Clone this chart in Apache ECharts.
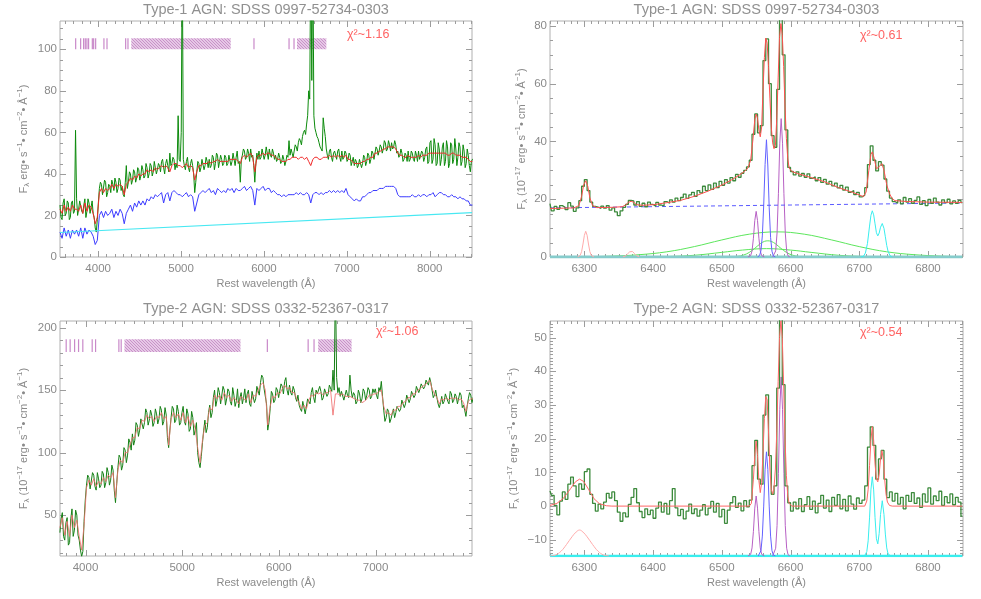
<!DOCTYPE html>
<html><head><meta charset="utf-8">
<script src="https://cdn.jsdelivr.net/npm/echarts@6/dist/echarts.min.js"></script>
<style>html,body{margin:0;padding:0;background:#fff}#c{width:981px;height:599px}</style>
</head><body><div id="c"></div>
<script>
// ---------------- titles / labels ----------------
const titleType1 = 'Type-1 AGN: SDSS 0997-52734-0303';
const titleType2 = 'Type-2 AGN: SDSS 0332-52367-0317';
const chiLabels = ['χ²~1.16', 'χ²~0.61', 'χ²~1.06', 'χ²~0.54'];
const xTitle = 'Rest wavelength (Å)';
const yTitleP1 = 'F{s|λ} erg• s{u|−1}• cm{u|−2}• Å{u|−1})';
const yTitle = 'F{s|λ} (10{u|−17} erg• s{u|−1}• cm{u|−2}• Å{u|−1})';

// ---------------- tick labels ----------------
const p1XTicks = [4000, 5000, 6000, 7000, 8000];
const p1YTicks = [0, 20, 40, 60, 80, 100];
const p2XTicks = [6300, 6400, 6500, 6600, 6700, 6800];
const p2YTicks = [0, 20, 40, 60, 80];
const p3XTicks = [4000, 5000, 6000, 7000];
const p3YTicks = [50, 100, 150, 200];
const p4XTicks = [6300, 6400, 6500, 6600, 6700, 6800];
const p4YTicks = [-10, 0, 10, 20, 30, 40, 50];

// ---------------- panel 1 : type-1 full spectrum ----------------
const p1ObsStart = 3540, p1ObsStep = 12.5;
const p1Observed = [
 25,19,18,26,28,20,21,27,26,18,19,26,27,21,22,61,
 28,20,23,27,27,22,21,25,28,19,22,28,26,21,24,27,
 21,19,14,12,18,26,33,36,35,30,30,37,36,29,31,35,
 34,31,37,35,32,38,36,31,33,38,37,32,34,30,29,36,
 44,33,36,41,40,35,37,42,41,36,38,43,42,37,39,44,
 42,38,39,45,43,38,40,45,44,39,41,46,43,40,42,45,
 44,41,46,47,43,40,45,47,44,41,50,44,45,48,47,42,
 45,43,68,47,46,60,150,47,44,42,46,48,43,41,45,47,
 44,40,31,36,41,46,45,41,43,47,47,42,44,48,46,43,
 47,43,44,49,48,42,45,50,49,43,46,49,47,44,45,49,
 48,44,45,49,49,44,46,50,47,44,48,51,45,46,36,47,
 49,52,51,47,48,52,50,46,52,48,49,44,36,45,50,47,
 51,47,48,52,52,47,49,53,50,47,52,49,48,52,50,47,
 49,46,47,50,48,45,46,49,47,44,46,49,48,56,49,52,
 50,48,51,54,53,51,55,57,56,54,58,60,61,59,64,68,
 80,76,150,85,150,68,62,60,58,57,55,53,52,51,67,62,
 58,52,49,47,51,52,48,46,50,51,49,47,51,52,48,46,
 51,47,48,51,50,46,47,50,49,44,46,48,44,47,46,43,
 44,47,47,43,45,49,48,44,46,50,49,45,47,51,50,47,
 50,53,52,49,51,54,53,50,52,56,55,51,52,56,54,51,
 55,52,53,56,54,50,51,48,49,52,50,46,47,50,49,46,
 51,46,47,51,50,47,46,51,49,46,51,47,47,51,50,46,
 48,52,53,45,46,55,56,45,47,57,54,44,45,55,52,44,
 47,53,55,44,46,56,53,43,45,55,54,45,47,57,52,44,
 48,55,53,44,46,54,51,43,45,52,49,44,41,46,47,47];
const p1Start = 3540, p1Step = 25;
const p1Model = [
 23,21,25,22,24,22,25,23, 23,22,25,21,26,22,25,24, 21,16,19,31,33,31,33,32,
 33,35,33,35,34,35,34,30, 35,36,38,37,39,38,40,39, 40,40,42,41,42,41,43,42,
 43,44,43,44,43,41,44,45, 45,44,44,43,44,45,43,44, 43,37,41,44,44,45,45,45,
 46,45,46,46,47,46,46,46, 46,46,47,47,47,47,46,45, 48,49,48,49,50,48,41,48,
 49,49,50,49,50,50,49,49, 48,47,47,46,46,46,47,47, 48,48,48,47,48,48,47,48,
 46,44,47,48,48,47,47,48, 48,48,49,48,49,48,49,48, 49,48,49,47,47,46,45,45,
 45,45,46,46,47,47,48,48, 50,50,51,51,52,52,53,53, 53,53,52,50,49,49,48,48,
 49,48,48,48,48,49,48,49, 49,49,50,50,50,50,50,50, 50,50,50,49,49,50,50,49,
 49,49,48,48,48,47,46,46];
const p1Stellar = [
 12,9,14,10,13,9,13,11, 13,10,14,9,14,11,13,12, 10,6,8,20,22,19,22,20,
 21,23,19,22,20,23,21,16, 21,23,25,22,26,24,27,25, 27,25,28,27,29,28,30,29,
 30,31,26,30,31,27,31,32, 31,30,30,29,30,31,29,30, 29,22,26,30,31,32,31,32,
 33,31,32,30,33,32,31,32, 31,33,32,33,31,33,32,32, 33,34,32,33,34,32,25,33,
 32,33,34,32,33,33,31,32, 31,30,30,29,30,29,30,30, 30,30,31,30,31,30,30,31,
 30,26,30,31,31,30,31,30, 31,31,32,31,32,31,32,31, 32,31,33,30,29,28,27,28,
 27,27,29,29,30,31,31,32, 32,32,33,33,33,34,34,34, 34,34,33,30,29,29,29,29,
 29,29,30,29,29,30,29,30, 30,29,30,30,31,29,30,31, 31,30,30,29,29,30,29,29,
 28,29,28,28,27,27,25,25];
const p1PowerLaw = [[3540, 11.8], [8510, 21.4]];
const p1MaskLines = [3729, 3789, 3825, 3845, 3865, 3885, 3930, 3946, 3970, 4070, 4107, 4332, 4360, 5880, 6303, 6363];
const p1MaskBoxes = [[4400, 5599], [6399, 6753]];
const p1MaskBand = [100, 105.3];

// ---------------- panel 3 : type-2 full spectrum ----------------
const p3ObsStart = 3735, p3ObsStep = 12.5;
const p3Observed = [
 36,47,52,33,30,44,48,26,28,47,55,33,38,54,50,34,30,22,17,21,
 45,62,74,82,80,71,72,84,82,73,70,84,79,72,74,85,83,72,76,88,
 84,74,78,90,86,70,60,75,88,98,96,86,90,104,102,92,98,111,108,102,
 115,106,110,124,122,113,118,127,128,119,124,135,132,122,126,134,130,121,124,135,
 131,123,127,137,134,122,125,136,130,112,104,118,128,137,135,124,126,138,133,122,
 124,132,137,125,122,135,131,117,119,133,128,114,118,124,100,92,88,97,108,118,
 126,116,120,132,138,128,132,144,150,137,142,152,148,139,140,153,150,138,143,151,
 149,141,138,152,146,137,141,151,136,144,148,139,144,151,140,147,150,139,137,149,
 148,140,143,153,152,146,156,162,160,151,150,139,118,124,135,149,147,140,142,152,
 150,144,145,155,153,147,157,160,150,146,154,148,146,153,150,144,141,146,138,135,
 133,141,140,131,132,143,144,139,148,152,144,140,150,147,146,153,149,142,144,151,
 150,145,147,154,153,149,166,150,240,160,148,152,145,149,150,142,143,150,146,144,
 162,150,144,148,146,139,141,150,147,140,143,151,149,142,146,152,150,143,145,151,
 148,151,146,143,152,149,157,145,134,125,128,135,133,124,127,131,135,128,132,137,
 138,133,135,142,141,136,139,146,145,140,143,149,148,144,146,153,152,148,151,155,
 155,151,153,158,157,154,160,156,150,144,146,150,144,139,136,140,145,139,141,147,
 146,141,139,149,147,140,142,147,145,139,140,148,146,136,138,134,129,137,143,148,146,140,144,146];
const p3Start = 3735, p3Step = 25;
const p3Model = [
 40,48,34,45,33,50,40,46,33,22, 42,72,78,74,79,73,77,75,80,77,
 82,80,84,64,86,94,92,100,100,106, 112,112,120,119,126,125,130,127,129,125,
 129,128,132,127,129,106,127,132,128,131, 126,132,124,129,121,126,119,104,92,110,
 122,124,136,134,146,143,146,142,148,144, 146,141,144,142,139,145,143,142,147,140,
 146,145,150,154,156,150,122,137,145,144, 148,147,151,154,151,152,148,148,143,140,
 135,138,135,142,146,145,148,147,148,146, 148,148,150,130,147,147,146,147,145,145,
 145,144,143,142,142,140,141,143,146,146, 147,147,149,150,137,131,132,130,134,134,
 137,137,140,141,144,144,147,147,150,151, 153,154,156,158,151,147,144,139,143,142,
 144,142,144,143,144,142,143,140,133,141,143,143];
const p3MaskLines = [3800, 3841, 3887, 3928, 3972, 4069, 4104, 4345, 4369, 5881, 6303, 6364];
const p3MaskBoxes = [[4403, 5603], [6407, 6752]];
const p3MaskBand = [180.5, 190.7];

// ---------------- panel 2 : type-1 H-alpha region ----------------
const p2Start = 6250, p2Step = 4;
const p2Observed = [
 18.5,16.0,17.5,16.5,17.8,17.2,16.4,18.8,17.6,15.8,17.0,
 19.5,24.5,26.8,23.0,19.0,17.5,
 17.3,16.8,17.6,16.9,17.8,16.2,17.0,15.6,14.3,16.0,17.2,
 18.2,19.6,19.4,18.0,19.2,17.5,
 18.6,17.4,19.0,18.2,17.6,18.9,18.0,17.7,19.2,
 18.6,19.8,19.0,20.4,19.5,20.6,21.8,20.3,21.5,22.4,
 21.0,23.0,22.2,24.5,23.0,25.0,23.4,25.6,24.0,26.2,
 24.8,26.8,25.6,27.5,26.4,28.6,27.6,29.0,30.0,31.2,
 33.5,42.5,49.5,43.0,45.5,68.0,75.5,60.0,42.0,38.0,58.0,83.0,70.0,44.0,31.0,
 29.6,28.4,29.5,28.0,28.9,27.6,28.8,27.2,27.8,26.4,27.5,25.8,26.9,25.2,26.2,24.6,25.6,23.9,24.8,23.2,24.2,22.4,23.0,21.6,22.4,20.8,21.4,
 24.0,32.0,38.5,33.5,29.8,33.0,31.8,27.0,22.8,20.4,19.2,
 18.6,19.8,18.4,20.6,19.0,20.2,18.6,19.6,20.8,18.2,19.5,17.8,19.9,18.6,20.4,19.0,18.0,19.8,18.8,20.0,18.4,19.4,18.6,19.6,18.8];
const p2Fit = [[6250,16.8],[6270,16.9],[6285,17.0],[6292,17.8],[6296,21],[6299,25],[6302,26.4],[6305,24.5],[6308,20.5],[6312,17.8],[6318,17.1],[6340,17.2],[6355,17.4],[6360,18.0],[6364,18.9],[6368,19.3],[6372,18.9],[6376,18.1],[6385,17.9],[6400,18.1],[6420,18.8],[6440,19.6],[6460,21.0],[6480,22.8],[6500,24.9],[6515,26.8],[6525,28.3],[6533,29.6],[6538,30.8],[6542,33.5],[6545,40],[6548,47.5],[6550,49.5],[6552,48],[6554,44],[6556,41.6],[6558,45],[6560,58],[6562,69],[6564,75.8],[6566,74],[6568,66],[6570,55],[6572,45],[6574,39.5],[6576,37.5],[6578,38.5],[6580,48],[6582,62],[6584,76],[6586,80.8],[6588,77],[6590,66],[6592,52],[6594,41],[6596,34],[6598,30.8],[6602,29.6],[6610,28.9],[6630,27.5],[6650,26.0],[6670,24.0],[6690,22.4],[6700,21.5],[6706,20.9],[6710,22.5],[6714,30],[6717,35.5],[6719,36.4],[6722,34],[6725,30.5],[6727,30.0],[6730,31.5],[6733,32.3],[6736,30],[6740,25],[6744,21.9],[6748,20.2],[6752,19.5],[6770,19.2],[6800,19.0],[6850,18.9]];
const p2Continuum = [[6250, 17.0], [6850, 18.7]];
const p2OI6300 = [[6290,0],[6292,0.1],[6294,0.6],[6296,1.9],[6298,4.5],[6300,7.5],[6302,8.9],[6304,7.5],[6306,4.5],[6308,1.9],[6310,0.6],[6312,0.1],[6314,0]];
const p2OI6363 = [[6356,0],[6360,0.4],[6363,1.1],[6366,1.8],[6368,2.1],[6370,1.9],[6373,1.2],[6376,0.5],[6380,0]];
const p2BroadA = [[6250,0],[6300,0.1],[6340,0.3],[6380,0.8],[6420,1.8],[6460,3.6],[6500,5.9],[6540,7.9],[6580,8.7],[6620,7.9],[6660,5.9],[6700,3.6],[6740,1.8],[6780,0.8],[6820,0.3],[6850,0.1]];
const p2BroadB = [[6380,0],[6420,0.15],[6460,0.6],[6500,1.6],[6530,2.4],[6565,2.9],[6600,2.4],[6630,1.6],[6670,0.6],[6710,0.15],[6750,0]];
const p2BroadC = [[6510,0],[6522,0.2],[6532,0.7],[6540,1.6],[6548,3.0],[6556,4.6],[6562,5.4],[6567,5.6],[6572,5.4],[6578,4.6],[6586,3.0],[6594,1.6],[6602,0.7],[6612,0.2],[6624,0]];
const p2NII6548 = [[6538,0],[6542,0.5],[6544,2.1],[6546,6.5],[6548,12.6],[6550,15.8],[6552,12.6],[6554,6.5],[6556,2.1],[6558,0.5],[6562,0]];
const p2NII6583 = [[6574,0],[6576.4,0.4],[6578.4,2.1],[6580.4,8.3],[6582.4,21.9],[6584.4,39.4],[6586.4,47.9],[6588.4,39.4],[6590.4,21.9],[6592.4,8.3],[6594.4,2.1],[6596.4,0.4],[6599,0]];
const p2HaNarrow = [[6552,0],[6555,0.5],[6557,2.2],[6559,7.3],[6561,18],[6563,32],[6565,40.6],[6567,31.5],[6569,17],[6571,6.8],[6573,2],[6575,0.4],[6578,0]];
const p2SII = [[6702,0],[6706,0.2],[6709,1.4],[6712,4.7],[6715,10.7],[6717,14.4],[6719,16.0],[6721,14.6],[6723,11.5],[6725,8.4],[6727,7.3],[6729,8.3],[6731,10.3],[6733.5,11.6],[6736,9.9],[6738,7.0],[6740,4.0],[6742,1.9],[6745,0.4],[6748,0]];
const p2Baseline = [[6250, 0], [6850, 0]];

// ---------------- panel 4 : type-2 H-alpha region ----------------
const p4Start = 6250, p4Step = 4;
const p4Observed = [
 4.5,3.2,0.2,-2.6,1.5,4.2,2.0,6.5,8.6,6.0,
 2.8,6.6,5.0,10.2,11.0,3.5,0.8,-1.5,0.6,-0.8,
 1.2,3.8,2.4,4.2,1.6,-1.8,-4.5,-2.0,-3.2,0.5,
 2.6,5.2,1.0,-1.6,-3.4,-0.8,-2.5,-1.2,-3.6,-0.6,
 1.2,-1.8,0.8,-2.4,1.6,5.2,-0.5,-2.8,-1.0,-3.8,
 -1.5,0.6,-2.2,-0.8,-3.0,-1.2,0.4,-2.6,-0.6,1.4,
 -1.8,0.8,-3.2,-1.0,-5.1,-1.2,1.0,2.8,-0.4,0.9,
 -1.4,1.6,-0.2,1.8,12.0,19.5,8.0,6.5,27.0,33.0,
 15.0,3.5,6.0,35.0,56.0,36.0,6.0,1.0,-1.5,1.2,
 -0.8,2.2,-1.6,0.4,2.8,-1.0,1.5,-2.0,0.8,3.2,
 -0.6,1.8,-1.6,2.6,0.2,3.4,-0.8,2.0,-1.4,3.0,
 0.6,-0.9,2.4,0.8,1.8,6.0,17.5,23.5,18.0,8.0,
 14.0,16.5,8.0,2.5,4.2,1.5,3.8,0.6,2.6,-0.8,
 3.2,1.4,4.0,0.8,2.4,-0.4,3.6,1.2,5.4,0.6,
 3.0,1.6,4.4,0.2,2.8,1.0,3.6,0.4,2.6,1.2,-3.0];
const p4Fit = [[6250,0.2],[6260,0.8],[6270,2.4],[6280,5.2],[6287,7.2],[6293,8.0],[6299,7.3],[6306,5.0],[6314,2.2],[6322,0.7],[6332,0.1],[6340,0],[6540,0],[6543,0.8],[6546,8],[6548,15],[6550,19.3],[6552,15],[6554,7.5],[6556,4.0],[6558,7],[6560,16],[6562,26],[6564,32.5],[6566,31.5],[6568,22],[6570,11],[6572,5],[6574,3.5],[6576,5.5],[6578,11],[6580,22],[6582,37],[6584,50],[6586,55],[6588,50],[6590,36],[6592,20],[6594,9],[6596,3],[6598,0.8],[6602,0],[6708,0],[6711,1.5],[6713,5],[6715,12],[6717,19.5],[6719,23.6],[6721,19.5],[6723,12.5],[6725,8.0],[6727,7.2],[6729,9.5],[6731,14],[6733,16.5],[6735,14],[6737,8],[6739,3.5],[6741,1.2],[6744,0.2],[6748,0],[6850,0]];
const p4OI6300 = [[6250,-14.8],[6258,-14.5],[6266,-13.4],[6274,-11.4],[6282,-9.1],[6288,-7.7],[6293,-7.1],[6298,-7.7],[6304,-9.1],[6312,-11.4],[6320,-13.4],[6328,-14.5],[6336,-14.8]];
const p4NII6548 = [[6538,-14.8],[6542,-14.3],[6544,-12.4],[6546,-7.5],[6548,-0.6],[6550,3.0],[6552,-0.6],[6554,-7.5],[6556,-12.4],[6558,-14.3],[6562,-14.8]];
const p4NII6583 = [[6574,-14.8],[6576.4,-14.4],[6578.4,-12.5],[6580.4,-5.8],[6582.4,9.6],[6584.4,28.7],[6586.4,38.3],[6588.4,28.7],[6590.4,9.6],[6592.4,-5.8],[6594.4,-12.5],[6596.4,-14.4],[6599,-14.8]];
const p4HaNarrow = [[6553,-14.8],[6555,-14.5],[6557,-13.2],[6559,-8.9],[6561,0],[6563,10.9],[6565,16.1],[6567,10.9],[6569,0],[6571,-8.9],[6573,-13.2],[6575,-14.5],[6578,-14.8]];
const p4SII = [[6704,-14.8],[6708,-14.7],[6711,-13.5],[6713,-10.3],[6715,-3.5],[6717,4.8],[6719,8.7],[6721,4.8],[6723,-3.4],[6725,-9.7],[6727,-11.2],[6729,-8.1],[6731,-2.5],[6733.5,1.6],[6736,-2.5],[6738,-8.3],[6740,-12.4],[6742,-14.2],[6746,-14.8]];
const p4Baseline = [[6250, -14.8], [6850, -14.8]];

// ---------------- styling ----------------
const AXIS_COLOR = '#b0b0b0';
const TICK_COLOR = '#9c9c9c';
const LABEL_COLOR = '#8a8a8a';
const FONT = "'Liberation Sans', 'DejaVu Sans', sans-serif";

function seq(a, b, s) { const o = []; for (let v = a; v <= b + 1e-9; v += s) o.push(+v.toFixed(4)); return o; }
const grid = (start, step, arr) => arr.map((v, i) => [start + i * step, v]);

const panels = [
  {box: [60, 21, 412, 236], x: [3540, 8510], y: [0, 113.6], xMaj: p1XTicks, xMin: seq(3600, 8500, 100), yMaj: p1YTicks, yMin: seq(5, 110, 5), yName: yTitleP1, yGap: 29, title: titleType1, titleY: 10, chi: [347, 35]},
  {box: [550, 21, 413, 236], x: [6250, 6851], y: [0, 81.7], xMaj: p2XTicks, xMin: seq(6250, 6850, 10), yMaj: p2YTicks, yMin: seq(5, 80, 5), yName: yTitle, yGap: 21, title: titleType1, titleY: 10, chi: [860, 36]},
  {box: [60, 321, 412, 235], x: [3736, 7998], y: [17.3, 205.3], xMaj: p3XTicks, xMin: seq(3800, 7900, 100), yMaj: p3YTicks, yMin: seq(20, 200, 10), yName: yTitle, yGap: 29, title: titleType2, titleY: 309, chi: [376, 332]},
  {box: [550, 321, 413, 235], x: [6250, 6851], y: [-14.8, 54.9], xMaj: p4XTicks, xMin: seq(6250, 6850, 10), yMaj: p4YTicks, yMin: seq(-14, 54, 1), yName: yTitle, yGap: 29, title: titleType2, titleY: 309, chi: [860, 333]}
];

const lbl = {color: LABEL_COLOR, fontSize: 11.5, fontFamily: FONT};
const nameStyle = {color: LABEL_COLOR, fontSize: 11, lineHeight: 15, fontFamily: FONT,
  rich: {
    s: {color: LABEL_COLOR, fontSize: 8, lineHeight: 9, fontFamily: FONT, verticalAlign: 'bottom'},
    u: {color: LABEL_COLOR, fontSize: 8, lineHeight: 9, fontFamily: FONT, verticalAlign: 'top'}
  }};
const fmt = v => String(v).replace('-', '−');

const xAxes = [], yAxes = [];
panels.forEach((p, gi) => {
  const base = {type: 'value', gridIndex: gi, splitLine: {show: false}, axisPointer: {show: false},
    axisLine: {show: false, onZero: false}, axisTick: {show: false}};
  xAxes.push(Object.assign({}, base, {position: 'bottom', min: p.x[0], max: p.x[1],
    axisLabel: Object.assign({show: true, customValues: p.xMaj, formatter: fmt, margin: 6}, lbl),
    name: xTitle, nameLocation: 'middle', nameGap: 21, nameTextStyle: {color: LABEL_COLOR, fontSize: 11, fontFamily: FONT}}));
  yAxes.push(Object.assign({}, base, {position: 'left', min: p.y[0], max: p.y[1],
    axisLabel: Object.assign({show: true, customValues: p.yMaj, formatter: fmt, margin: 3}, lbl),
    name: p.yName, nameLocation: 'middle', nameGap: p.yGap, nameRotate: 90, nameTextStyle: nameStyle}));
});

// hatch pattern for masked windows
const hatch = document.createElement('canvas'); hatch.width = 3; hatch.height = 3;
const hc = hatch.getContext('2d');
hc.fillStyle = '#e6c8e6'; hc.fillRect(0, 0, 3, 3);
hc.strokeStyle = '#c48ac4'; hc.lineWidth = 0.9;
hc.beginPath(); hc.moveTo(0, 0); hc.lineTo(3, 3); hc.moveTo(-1, 2); hc.lineTo(1, 4); hc.moveTo(2, -1); hc.lineTo(4, 1); hc.stroke();

function line(gi, data, color, width, extra) {
  return Object.assign({type: 'line', xAxisIndex: gi, yAxisIndex: gi, data: data, symbol: 'none', showSymbol: false,
    silent: true, animation: false, clip: true, lineStyle: {color: color, width: width}, emphasis: {disabled: true}}, extra || {});
}
function mask(gi, lines, boxes, band) {
  const data = lines.map(l => [l, l, band[0], band[1], 0]).concat(boxes.map(b => [b[0], b[1], band[0], band[1], 1]));
  return {type: 'custom', xAxisIndex: gi, yAxisIndex: gi, data: data, silent: true, animation: false, clip: true,
    renderItem: (params, api) => {
      const a = api.coord([api.value(0), api.value(3)]);
      const b = api.coord([api.value(1), api.value(2)]);
      if (api.value(4) === 0) {
        return {type: 'line', shape: {x1: a[0], y1: a[1], x2: a[0], y2: b[1]}, style: {stroke: '#c989c9', lineWidth: 1.2}};
      }
      return {type: 'rect', shape: {x: a[0], y: a[1], width: b[0] - a[0], height: b[1] - a[1]}, style: {fill: {image: hatch, repeat: 'repeat'}}};
    }};
}

const series = [
  // panel 1
  line(0, grid(p1ObsStart, p1ObsStep, p1Observed), '#0c8a0c', 1),
  line(0, grid(p1Start, p1Step, p1Model), '#f02a2a', 1),
  line(0, grid(p1Start, p1Step, p1Stellar), '#3b3bff', 1),
  line(0, p1PowerLaw, '#48e8f2', 1.2),
  mask(0, p1MaskLines, p1MaskBoxes, p1MaskBand),
  // panel 2
  line(1, p2BroadA, '#5ce65c', 1, {smooth: 0.4}),
  line(1, p2BroadB, '#5ce65c', 1, {smooth: 0.4}),
  line(1, p2BroadC, '#5ce65c', 1, {smooth: 0.4}),
  line(1, p2Baseline, '#86cccc', 3),
  line(1, p2OI6300, '#ffabab', 1),
  line(1, p2OI6363, '#ffabab', 1),
  line(1, p2NII6548, '#b760c4', 1),
  line(1, p2NII6583, '#b760c4', 1),
  line(1, p2HaNarrow, '#6262ff', 1),
  line(1, p2SII, '#38eeee', 1),
  line(1, p2Continuum, '#5a5aff', 1, {lineStyle: {color: '#5a5aff', width: 1, type: [4, 3]}}),
  line(1, grid(p2Start, p2Step, p2Observed), '#3c8a3c', 1.3, {step: 'middle'}),
  line(1, p2Fit, '#ff5050', 1),
  // panel 3
  line(2, grid(p3ObsStart, p3ObsStep, p3Observed), '#168016', 1),
  line(2, grid(p3Start, p3Step, p3Model), '#f07070', 1, {lineStyle: {color: '#f07070', width: 1, opacity: 0.85}}),
  mask(2, p3MaskLines, p3MaskBoxes, p3MaskBand),
  // panel 4
  line(3, p4Baseline, '#38eeee', 2.5),
  line(3, p4OI6300, '#ffabab', 1, {smooth: 0.4}),
  line(3, p4NII6548, '#b760c4', 1),
  line(3, p4NII6583, '#b760c4', 1),
  line(3, p4HaNarrow, '#6262ff', 1),
  line(3, p4SII, '#38eeee', 1),
  line(3, grid(p4Start, p4Step, p4Observed), '#3c8a3c', 1.3, {step: 'middle'}),
  line(3, p4Fit, '#ff6666', 1)
];

const graphic = [];
panels.forEach((p, gi) => {
  graphic.push({type: 'text', x: p.box[0] + p.box[2] / 2, y: p.titleY, silent: true,
    style: {text: p.title, align: 'center', verticalAlign: 'middle', fill: '#909090', fontSize: 14.5, fontFamily: FONT}});
  graphic.push({type: 'text', x: p.chi[0], y: p.chi[1], silent: true,
    style: {text: chiLabels[gi], align: 'left', verticalAlign: 'middle', fill: '#ff6464', fontSize: 12.5, fontFamily: FONT}});
});

const chart = echarts.init(document.getElementById('c'), null, {renderer: 'canvas', width: 981, height: 599});
chart.setOption({
  animation: false,
  backgroundColor: '#ffffff',
  grid: panels.map(p => ({left: p.box[0], top: p.box[1], width: p.box[2], height: p.box[3], show: true,
    borderColor: AXIS_COLOR, borderWidth: 1, backgroundColor: 'transparent'})),
  xAxis: xAxes,
  yAxis: yAxes,
  series: series,
  graphic: graphic
});

// inward tick marks on all four sides, positioned through the axes' own scales
const tickMarks = [];
const tst = {stroke: TICK_COLOR, lineWidth: 1};
panels.forEach((p, gi) => {
  const L = p.box[0], T = p.box[1], R = p.box[0] + p.box[2], B = p.box[1] + p.box[3];
  const addX = (v, len) => {
    const px = Math.round(chart.convertToPixel({xAxisIndex: gi}, v)) + 0.5;
    tickMarks.push({type: 'line', shape: {x1: px, y1: B, x2: px, y2: B - len}, style: tst});
    tickMarks.push({type: 'line', shape: {x1: px, y1: T, x2: px, y2: T + len}, style: tst});
  };
  const addY = (v, len) => {
    const py = Math.round(chart.convertToPixel({yAxisIndex: gi}, v)) + 0.5;
    tickMarks.push({type: 'line', shape: {x1: L, y1: py, x2: L + len, y2: py}, style: tst});
    tickMarks.push({type: 'line', shape: {x1: R, y1: py, x2: R - len, y2: py}, style: tst});
  };
  p.xMin.forEach(v => addX(v, 3));
  p.xMaj.forEach(v => addX(v, 6));
  p.yMin.forEach(v => addY(v, 3));
  p.yMaj.forEach(v => addY(v, 6));
});
chart.setOption({graphic: graphic.concat(tickMarks)});
</script></body></html>
